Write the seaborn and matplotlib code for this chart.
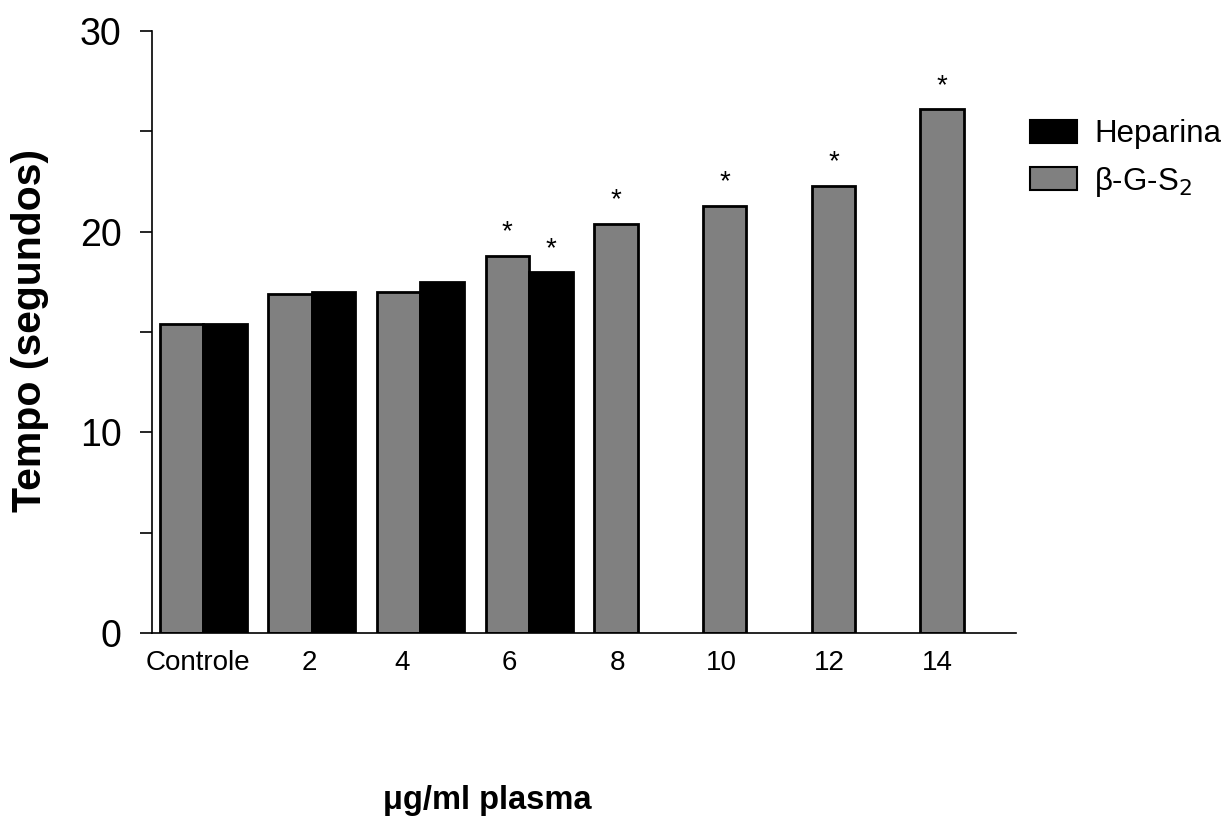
import numpy as np
import pandas as pd
import matplotlib
matplotlib.use("Agg")
import matplotlib.pyplot as plt
from matplotlib.patches import Patch
import seaborn as sns

# Clotting time (seconds) per dose (µg/ml plasma)
doses = ["Controle", "2", "4", "6", "8", "10", "12", "14"]
bgs2_values = [15.4, 16.9, 17.0, 18.8, 20.4, 21.3, 22.3, 26.1]
heparina_values = [15.4, 17.0, 17.5, 18.0, np.nan, np.nan, np.nan, np.nan]
bgs2_signif = [False, False, False, True, True, True, True, True]
heparina_signif = [False, False, False, True, False, False, False, False]
# label offsets relative to group centres (category units)
label_offsets = [-0.05, -0.02, -0.17, -0.18, -0.19, -0.23, -0.24, -0.24]

BGS2 = "β-G-S$_2$"
HEP = "Heparina"

df = pd.DataFrame({
    "dose": doses * 2,
    "serie": [BGS2] * len(doses) + [HEP] * len(doses),
    "tempo": bgs2_values + heparina_values,
})

sns.set_theme(style="white")
plt.rcParams["font.family"] = ["Liberation Sans", "DejaVu Sans"]
plt.rcParams["text.color"] = "black"
plt.rcParams["axes.labelcolor"] = "black"
plt.rcParams["xtick.color"] = "black"
plt.rcParams["ytick.color"] = "black"

fig = plt.figure(figsize=(12.25, 8.34), dpi=100)
ax = fig.add_axes([152 / 1225, 1 - 633 / 834, (1016 - 152) / 1225, (633 - 31) / 834])

colors = {BGS2: "#808080", HEP: "#000000"}
sns.barplot(data=df, x="dose", y="tempo", hue="serie", hue_order=[BGS2, HEP],
            order=doses, palette=colors, edgecolor="black", linewidth=2,
            width=0.8, dodge=True, legend=False, ax=ax, errorbar=None)

ax.set_xlim(-0.47, 7.48)
ax.set_ylim(0, 30)

# significance marks above bars
for container, vals, flags in zip(ax.containers, [bgs2_values, heparina_values],
                                  [bgs2_signif, heparina_signif]):
    for bar, v, f in zip(container.patches, vals, flags):
        if f and not np.isnan(v):
            ax.text(bar.get_x() + bar.get_width() / 2, v + 0.8, "*",
                    ha="center", va="baseline", fontsize=20, color="black")

# axes styling
for s in ["top", "right"]:
    ax.spines[s].set_visible(False)
for s in ["left", "bottom"]:
    ax.spines[s].set_color("black")
    ax.spines[s].set_linewidth(1.2)

ax.set_yticks([0, 10, 20, 30])
ax.set_yticks([5, 15, 25], minor=True)
ax.tick_params(axis="y", which="both", direction="out", length=9, width=1.2,
               color="black", left=True, labelsize=27, pad=13, labelcolor="black")
ax.set_yticklabels(["0", "10", "20", "30"])

ax.set_xticks(np.arange(len(doses)) + np.array(label_offsets))
ax.set_xticklabels(doses)
ax.tick_params(axis="x", length=0, labelsize=20, pad=12, labelcolor="black")

ax.set_xlabel("")
ax.set_ylabel("")

fig.text(30 / 1225, 1 - 330 / 834, "Tempo (segundos)", rotation=90,
         ha="center", va="center", fontsize=29.5, fontweight="bold", color="black")
fig.text(487 / 1225, 1 - 800 / 834, "μg/ml plasma", ha="center", va="center",
         fontsize=23.5, fontweight="bold", color="black")

handles = [Patch(facecolor="#000000", edgecolor="black", linewidth=1.5, label=HEP),
           Patch(facecolor="#808080", edgecolor="black", linewidth=1.5, label=BGS2)]
fig.legend(handles=handles, loc="upper left",
           bbox_to_anchor=(1030 / 1225, 1 - 119 / 834), frameon=False,
           fontsize=22.5, handlelength=1.5, handleheight=0.75, handletextpad=0.55,
           labelspacing=0.5, borderpad=0, borderaxespad=0, labelcolor="black")

fig.savefig("out.png", dpi=100, facecolor="white")
